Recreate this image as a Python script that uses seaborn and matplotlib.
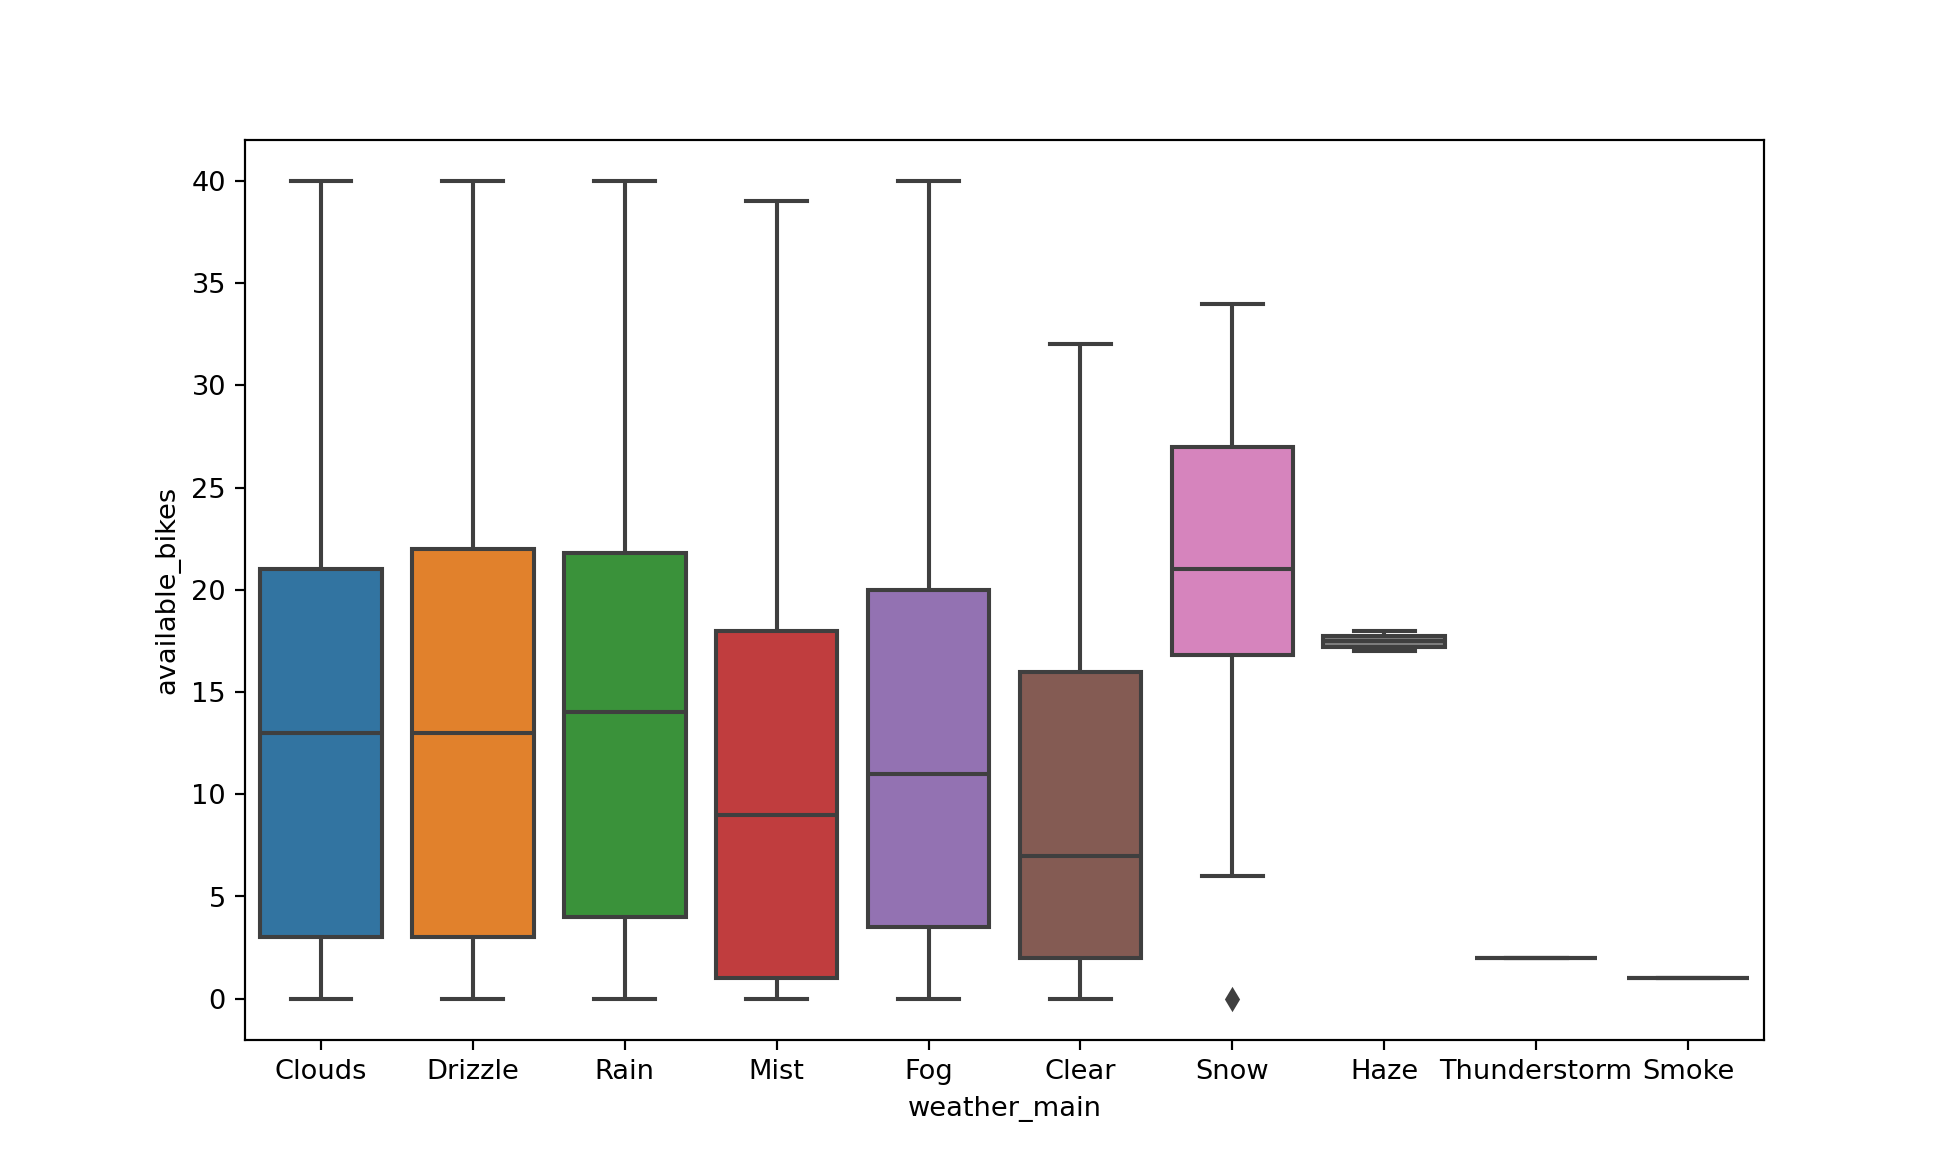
import matplotlib
matplotlib.use("Agg")
import matplotlib.pyplot as plt
import seaborn as sns
import pandas as pd

categories = ["Clouds", "Drizzle", "Rain", "Mist", "Fog", "Clear", "Snow", "Haze", "Thunderstorm", "Smoke"]

# small samples per category whose quartiles/whiskers reproduce the reference boxes
clouds = [0, 3, 13, 21, 40]
drizzle = [0, 3, 13, 22, 40]
rain = [0, 4, 14, 21.8, 40]
mist = [0, 1, 9, 18, 39]
fog = [0, 3.5, 11, 20, 40]
clear = [0, 2, 7, 16, 32]
snow = [0, 6, 16.8, 18, 21, 25, 27, 30, 34]
haze = [17, 17.2, 17.5, 17.75, 18]
thunderstorm = [2, 2, 2]
smoke = [1, 1, 1]

series = [clouds, drizzle, rain, mist, fog, clear, snow, haze, thunderstorm, smoke]
rows = []
for cat, vals in zip(categories, series):
    for v in vals:
        rows.append({"weather_main": cat, "available_bikes": v})
df = pd.DataFrame(rows)

fig, ax = plt.subplots(figsize=(10, 5.96), dpi=196)
sns.boxplot(data=df, x="weather_main", y="available_bikes", hue="weather_main",
            order=categories, hue_order=categories, palette="tab10", saturation=0.75,
            legend=False, ax=ax, linecolor="#3f3f3f", linewidth=1.5, width=0.8,
            flierprops=dict(marker="d", markerfacecolor="#3f3f3f", markeredgecolor="#3f3f3f", markersize=5))
ax.set_yticks([0, 5, 10, 15, 20, 25, 30, 35, 40])
fig.savefig("out.png", dpi=196)
